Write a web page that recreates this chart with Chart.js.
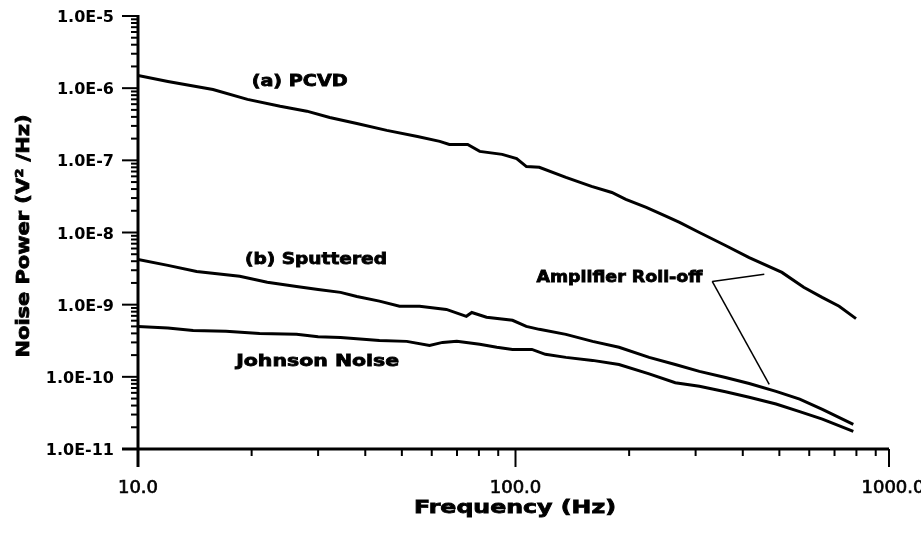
<!DOCTYPE html>
<html>
<head>
<meta charset="utf-8">
<title>Noise power spectrum</title>
<script src="https://cdn.jsdelivr.net/npm/chart.js@4.4.1/dist/chart.umd.min.js"></script>
<style>
    body { margin: 0; background: #fff; }
    #wrap { width: 921px; height: 535px; position: relative; }
</style>
</head>
<body>
<div id="wrap"><canvas id="myChart"></canvas></div>
<script>
// values (Hz, V^2/Hz)
const pcvdFreq = [10, 12, 15.8, 19.5, 23.8, 28, 32.2, 38, 45.6, 55, 63, 66.8, 74.7, 80.4, 92.2, 100.7, 106.9, 115.6, 136, 159, 180, 196, 222, 251, 272, 307, 360, 416, 508, 580, 649, 720, 798];
const pcvdPower = [1.5e-6, 1.24e-6, 9.6e-7, 7.0e-7, 5.6e-7, 4.8e-7, 3.93e-7, 3.24e-7, 2.6e-7, 2.14e-7, 1.83e-7, 1.66e-7, 1.66e-7, 1.33e-7, 1.21e-7, 1.06e-7, 8.2e-8, 8.0e-8, 5.8e-8, 4.36e-8, 3.59e-8, 2.88e-8, 2.23e-8, 1.67e-8, 1.38e-8, 1.0e-8, 6.6e-9, 4.5e-9, 2.8e-9, 1.74e-9, 1.26e-9, 9.5e-10, 6.4e-10];

const sputFreq = [10, 12, 14.3, 18.6, 22, 26.3, 30, 34.4, 38, 43.6, 49.3, 55.7, 65.6, 74.1, 76.6, 83.8, 98.2, 106.8, 115.6, 136, 160, 188, 226, 265, 307, 360, 416, 490, 566, 650, 785];
const sputPower = [4.24e-9, 3.5e-9, 2.89e-9, 2.47e-9, 2.05e-9, 1.79e-9, 1.62e-9, 1.48e-9, 1.3e-9, 1.12e-9, 9.5e-10, 9.5e-10, 8.6e-10, 6.9e-10, 7.8e-10, 6.7e-10, 6.07e-10, 5.0e-10, 4.55e-10, 3.88e-10, 3.1e-10, 2.57e-10, 1.86e-10, 1.48e-10, 1.19e-10, 9.8e-11, 8.1e-11, 6.3e-11, 4.9e-11, 3.55e-11, 2.2e-11];

const johnFreq = [10, 12, 14, 17.1, 21, 26.3, 30, 34.4, 43.6, 51.5, 59.2, 64.1, 69.9, 80.4, 89.2, 98.2, 110.5, 120, 136, 160, 188, 226, 265, 307, 360, 416, 490, 566, 650, 785];
const johnPower = [5.0e-10, 4.75e-10, 4.4e-10, 4.27e-10, 4.0e-10, 3.88e-10, 3.6e-10, 3.52e-10, 3.2e-10, 3.1e-10, 2.73e-10, 3.0e-10, 3.1e-10, 2.82e-10, 2.57e-10, 2.4e-10, 2.4e-10, 2.05e-10, 1.86e-10, 1.69e-10, 1.48e-10, 1.1e-10, 8.3e-11, 7.4e-11, 6.2e-11, 5.2e-11, 4.2e-11, 3.3e-11, 2.6e-11, 1.76e-11];

const xMajor = [10, 100, 1000];
const xLabels = ['10.0', '100.0', '1000.0'];
const yMajor = [1e-5, 1e-6, 1e-7, 1e-8, 1e-9, 1e-10, 1e-11];
const yLabels = ['1.0E-5', '1.0E-6', '1.0E-7', '1.0E-8', '1.0E-9', '1.0E-10', '1.0E-11'];

const xTitle = 'Frequency (Hz)';
const yTitle = 'Noise Power (V\u00b2 /Hz)';

// curve labels, placed in data coordinates [freq, power]
const curveLabels = [
    { text: '(a) PCVD', at: [20.0, 1.24e-6], w: 96 },
    { text: '(b) Sputtered', at: [19.2, 4.24e-9], w: 142 },
    { text: 'Johnson Noise', at: [18.2, 1.59e-10], w: 163 },
    { text: 'Amplifier Roll-off', at: [113.6, 2.39e-9], w: 166 },
];
const leaderFrom = [332, 2.1e-9];
const leaderTo = [[456, 2.63e-9], [470, 7.85e-11]];

const toPoints = (fs, vs) => fs.map((f, i) => ({ x: f, y: vs[i] }));

// scanned lettering is wide and heavy: stretch + a thin outline
function stretchText(ctx, text, x, y, size, width, align) {
    ctx.font = 'bold ' + size + 'px "DejaVu Sans"';
    const sx = width / ctx.measureText(text).width;
    ctx.save();
    ctx.translate(x, y);
    ctx.scale(sx, 1);
    ctx.textAlign = align || 'left';
    ctx.textBaseline = 'middle';
    ctx.lineWidth = 0.8;
    ctx.fillText(text, 0, 0);
    ctx.strokeText(text, 0, 0);
    ctx.restore();
}

const axesPlugin = {
    id: 'scanAxes',
    afterDraw(chart) {
        const ctx = chart.ctx;
        const xs = chart.scales.x, ys = chart.scales.y;
        const area = chart.chartArea;
        ctx.save();
        ctx.strokeStyle = '#000';
        ctx.fillStyle = '#000';
        ctx.lineCap = 'butt';

        // axis lines
        ctx.lineWidth = 3;
        ctx.beginPath();
        ctx.moveTo(area.left, area.top - 1);
        ctx.lineTo(area.left, area.bottom + 18);
        ctx.moveTo(area.left - 16, area.bottom);
        ctx.lineTo(xs.getPixelForValue(1000) - 4, area.bottom);
        ctx.stroke();

        // x ticks
        ctx.lineWidth = 2;
        for (let d = 10; d < 1000; d *= 10) {
            for (let m = 2; m <= 9; m++) {
                const px = xs.getPixelForValue(d * m);
                ctx.beginPath();
                ctx.moveTo(px, area.bottom);
                ctx.lineTo(px, area.bottom + 7);
                ctx.stroke();
            }
        }
        xMajor.forEach((v, i) => {
            let px = xs.getPixelForValue(v);
            if (i === xMajor.length - 1) px -= 4;
            ctx.beginPath();
            ctx.moveTo(px, area.bottom);
            ctx.lineTo(px, area.bottom + 18);
            ctx.stroke();
        });

        // y ticks
        for (let d = 1e-11; d < 0.9e-5; d *= 10) {
            for (let m = 2; m <= 9; m++) {
                const py = ys.getPixelForValue(d * m);
                ctx.beginPath();
                ctx.moveTo(area.left, py);
                ctx.lineTo(area.left - 7, py);
                ctx.stroke();
            }
        }
        yMajor.forEach(v => {
            const py = ys.getPixelForValue(v);
            ctx.beginPath();
            ctx.moveTo(area.left, py);
            ctx.lineTo(area.left - 16, py);
            ctx.stroke();
        });

        // tick labels
        ctx.font = 'bold 16px "DejaVu Sans"';
        ctx.textAlign = 'right';
        ctx.textBaseline = 'middle';
        yMajor.forEach((v, i) => {
            ctx.fillText(yLabels[i], area.left - 24, ys.getPixelForValue(v) + 2);
        });
        ctx.font = '18px "DejaVu Sans"';
        ctx.textAlign = 'center';
        ctx.lineWidth = 0.7;
        xMajor.forEach((v, i) => {
            const px = xs.getPixelForValue(v), py = area.bottom + 39;
            ctx.fillText(xLabels[i], px, py);
            ctx.strokeText(xLabels[i], px, py);
        });

        // axis titles
        stretchText(ctx, xTitle, 515, 508, 18, 202, 'center');
        ctx.save();
        ctx.translate(24, 236);
        ctx.rotate(-Math.PI / 2);
        stretchText(ctx, yTitle, 0, 0, 18, 243, 'center');
        ctx.restore();

        // curve labels and leader lines
        curveLabels.forEach(l => {
            stretchText(ctx, l.text, xs.getPixelForValue(l.at[0]), ys.getPixelForValue(l.at[1]), 16, l.w, 'left');
        });
        ctx.lineWidth = 1.5;
        const fx = xs.getPixelForValue(leaderFrom[0]), fy = ys.getPixelForValue(leaderFrom[1]);
        leaderTo.forEach(t => {
            ctx.beginPath();
            ctx.moveTo(fx, fy);
            ctx.lineTo(xs.getPixelForValue(t[0]), ys.getPixelForValue(t[1]));
            ctx.stroke();
        });
        ctx.restore();
    }
};

const lineStyle = { borderColor: '#000', borderWidth: 3, pointRadius: 0, tension: 0, fill: false };

const ctx = document.getElementById('myChart').getContext('2d');
const myChart = new Chart(ctx, {
    type: 'line',
    data: {
        datasets: [
            { label: '(a) PCVD', data: toPoints(pcvdFreq, pcvdPower), ...lineStyle },
            { label: '(b) Sputtered', data: toPoints(sputFreq, sputPower), ...lineStyle },
            { label: 'Johnson Noise', data: toPoints(johnFreq, johnPower), ...lineStyle },
        ]
    },
    options: {
        responsive: true,
        maintainAspectRatio: false,
        animation: false,
        layout: { padding: { top: 16, right: 28, left: 0, bottom: 0 } },
        plugins: { legend: { display: false }, tooltip: { enabled: false } },
        scales: {
            x: {
                type: 'logarithmic',
                min: 10,
                max: 1000,
                grid: { display: false },
                border: { display: false },
                ticks: { display: false },
                afterFit: s => { s.height = 86; }
            },
            y: {
                type: 'logarithmic',
                min: 1e-11,
                max: 1e-5,
                grid: { display: false },
                border: { display: false },
                ticks: { display: false },
                afterFit: s => { s.width = 138; }
            }
        }
    },
    plugins: [axesPlugin]
});
</script>
</body>
</html>
